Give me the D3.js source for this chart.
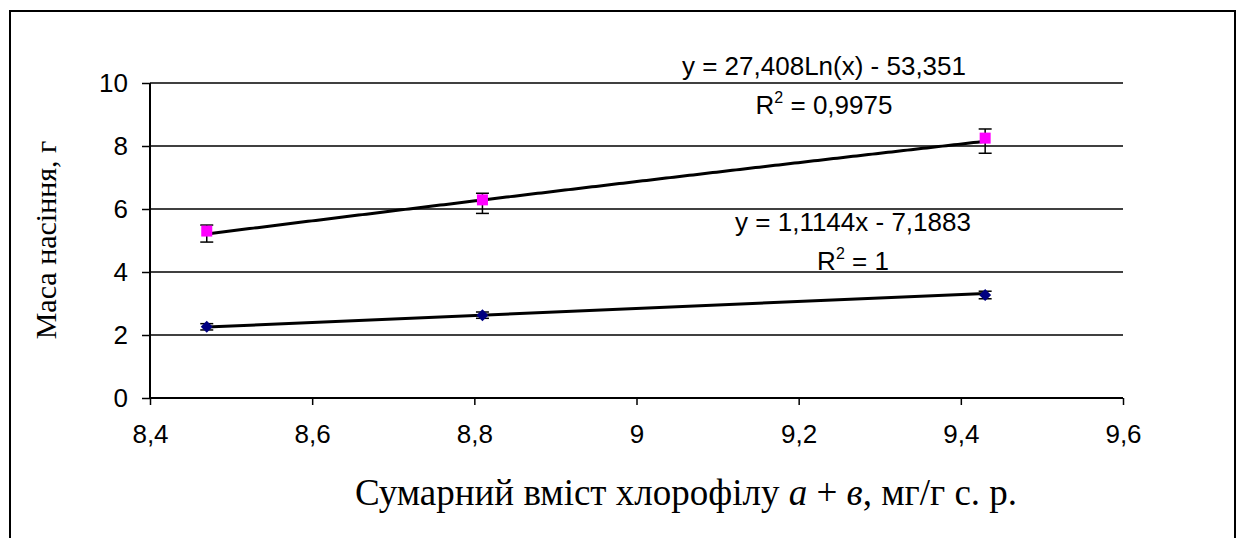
<!DOCTYPE html>
<html><head><meta charset="utf-8">
<script src="https://cdn.jsdelivr.net/npm/d3@7"></script>
<style>body{margin:0;background:#fff}svg{display:block}</style>
</head><body>
<svg id="c" width="1238" height="538"></svg>
<script>
const xValues = [8.47, 8.81, 9.43];
const seedMass = [5.30, 6.29, 8.25];
const seedErrPlus = [0.19, 0.21, 0.29];
const seedErrMinus = [0.35, 0.43, 0.48];
const lowerMass = [2.26, 2.63, 3.27];
const lowerErr = [0.1, 0.1, 0.12];
const xTicks = [8.4, 8.6, 8.8, 9.0, 9.2, 9.4, 9.6];
const yTicks = [0, 2, 4, 6, 8, 10];
const logFit = {a: 27.408, b: -53.351, label: "y = 27,408Ln(x) - 53,351", r2: "0,9975"};
const linFit = {a: 1.1144, b: -7.1883, label: "y = 1,1144x - 7,1883", r2: "1"};

const svg = d3.select("#c");
const x = d3.scaleLinear().domain([8.4, 9.6]).range([150, 1123]);
const y = d3.scaleLinear().domain([0, 10]).range([398, 83]);
const fmt = d => String(+d.toFixed(1)).replace(".", ",");
const sans = "'Liberation Sans', Arial, sans-serif";
const FS = 26;

// outer border
svg.append("rect").attr("x", 10).attr("y", 11).attr("width", 1225).attr("height", 540)
  .attr("fill", "none").attr("stroke", "#000").attr("stroke-width", 2);

// gridlines
svg.append("g").selectAll("line").data(yTicks.filter(d => d > 0)).join("line")
  .attr("x1", x(8.4)).attr("x2", x(9.6)).attr("y1", d => y(d)).attr("y2", d => y(d))
  .attr("stroke", "#000").attr("stroke-width", 1.5);

// axes
const gy = svg.append("g").attr("transform", `translate(${x(8.4)},0)`)
  .call(d3.axisLeft(y).tickValues(yTicks).tickSize(8).tickPadding(14).tickFormat(d => d));
const gx = svg.append("g").attr("transform", `translate(0,${y(0)})`)
  .call(d3.axisBottom(x).tickValues(xTicks).tickSize(7).tickPadding(20).tickFormat(fmt));
[gx, gy].forEach(g => {
  g.select(".domain").attr("stroke", "#000").attr("stroke-width", 2);
  g.selectAll(".tick line").attr("stroke", "#000").attr("stroke-width", 1.5);
  g.selectAll("text").attr("font-family", sans).attr("font-size", FS).attr("fill", "#000");
});
gy.select(".domain").attr("d", `M0,${y(10)}V${y(0)}`);
gx.select(".domain").attr("d", `M${x(8.4)},0H${x(9.6)}`);

// fit lines
const xs = d3.range(0, 201).map(i => xValues[0] + (xValues[2] - xValues[0]) * i / 200);
const line = d3.line().x(d => x(d[0])).y(d => y(d[1]));
svg.append("path").datum(xs.map(v => [v, logFit.a * Math.log(v) + logFit.b]))
  .attr("d", line).attr("fill", "none").attr("stroke", "#000").attr("stroke-width", 3);
svg.append("path").datum([xValues[0], xValues[2]].map(v => [v, linFit.a * v + linFit.b]))
  .attr("d", line).attr("fill", "none").attr("stroke", "#000").attr("stroke-width", 3);

// error bars
function errBars(vals, plus, minus) {
  const g = svg.append("g").attr("stroke", "#000").attr("stroke-width", 1.5);
  vals.forEach((v, i) => {
    const cx = x(xValues[i]), t = y(v + plus[i]), b = y(v - minus[i]);
    g.append("line").attr("x1", cx).attr("x2", cx).attr("y1", t).attr("y2", b);
    g.append("line").attr("x1", cx - 6.5).attr("x2", cx + 6.5).attr("y1", t).attr("y2", t);
    g.append("line").attr("x1", cx - 6.5).attr("x2", cx + 6.5).attr("y1", b).attr("y2", b);
  });
}
errBars(seedMass, seedErrPlus, seedErrMinus);
errBars(lowerMass, lowerErr, lowerErr);

// markers
svg.append("g").selectAll("rect").data(seedMass).join("rect")
  .attr("x", (d, i) => x(xValues[i]) - 5.5).attr("y", d => y(d) - 5.5)
  .attr("width", 11).attr("height", 11).attr("fill", "#FF00FF");
svg.append("g").selectAll("path").data(lowerMass).join("path")
  .attr("transform", (d, i) => `translate(${x(xValues[i])},${y(d)})`)
  .attr("d", "M0,-6L6,0L0,6L-6,0Z").attr("fill", "#000080");

// equation labels
function eq(cx, by, label, r2) {
  svg.append("text").attr("x", cx).attr("y", by).attr("text-anchor", "middle")
    .attr("font-family", sans).attr("font-size", FS).text(label);
  const t = svg.append("text").attr("x", cx).attr("y", by + 39).attr("text-anchor", "middle")
    .attr("font-family", sans).attr("font-size", FS);
  t.append("tspan").text("R");
  t.append("tspan").attr("dy", -11).attr("font-size", 16).text("2");
  t.append("tspan").attr("dy", 11).text(" = " + r2);
}
eq(824, 75, logFit.label, logFit.r2);
eq(853, 231, linFit.label, linFit.r2);

// axis titles
const serif = "'Liberation Serif', 'Times New Roman', serif";
svg.append("text").attr("transform", "translate(56,240) rotate(-90)")
  .attr("text-anchor", "middle").attr("font-family", serif).attr("font-size", 30)
  .text("Маса насіння, г");
const xt = svg.append("text").attr("x", 686).attr("y", 505).attr("text-anchor", "middle")
  .attr("font-family", serif).attr("font-size", 37);
xt.append("tspan").text("Сумарний вміст хлорофілу ");
xt.append("tspan").attr("font-style", "italic").text("а");
xt.append("tspan").text(" + ");
xt.append("tspan").attr("font-style", "italic").text("в");
xt.append("tspan").text(", мг/г с. р.");
</script>
</body></html>
